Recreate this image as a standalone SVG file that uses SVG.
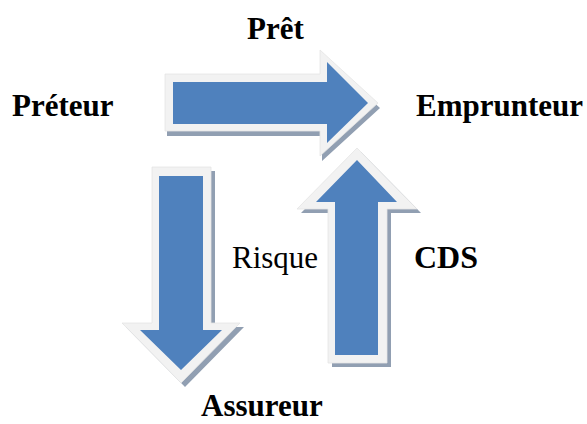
<svg xmlns="http://www.w3.org/2000/svg" width="587" height="424" viewBox="0 0 587 424">
<style>
.sh{fill:#919fb2}
.out{fill:#f2f2f2;stroke:#e4e4e4;stroke-width:0.8}
.in{fill:#4f81bd}
.t{font-family:"Liberation Serif","Times New Roman",serif;font-size:31px;fill:#000}
.b{font-weight:bold}
</style>
<rect width="587" height="424" fill="#fff"/>
<g id="connectors">
<g id="arrow-pret">
<polygon class="sh" transform="translate(2,5)" points="165,74 320,74 320,50 378,103 320,156 320,131 165,131"/>
<polygon class="out" points="165,74 320,74 320,50 378,103 320,156 320,131 165,131"/>
<polygon class="in" points="173,82 327,82 327,62 368,103 327,143 327,124 173,124"/>
</g>
<g id="arrow-risque">
<polygon class="sh" transform="translate(4,4)" points="152,167 211,167 211,323 240,323 181,383 122,323 152,323"/>
<polygon class="out" points="152,167 211,167 211,323 240,323 181,383 122,323 152,323"/>
<polygon class="in" points="159,176 203,176 203,330 222,330 181,370 140,330 159,330"/>
</g>
<g id="arrow-cds">
<polygon class="sh" transform="translate(4,4)" points="328,363 387,363 387,209 417,209 357,148 297,209 328,209"/>
<polygon class="out" points="328,363 387,363 387,209 417,209 357,148 297,209 328,209"/>
<polygon class="in" points="335,355 378,355 378,202 397,202 357,160 316,202 335,202"/>
</g>
</g>
<g id="preteur"><text class="t b" x="12" y="116">Préteur</text></g>
<g id="emprunteur"><text class="t b" x="416" y="116">Emprunteur</text></g>
<g id="assureur"><text class="t b" x="201" y="416">Assureur</text></g>
<g id="label-pret"><text class="t b" x="247" y="39">Prêt</text></g>
<g id="label-risque"><text class="t" x="232" y="268">Risque</text></g>
<g id="label-cds"><text class="t b" x="414" y="268" style="font-size:32px">CDS</text></g>
</svg>
